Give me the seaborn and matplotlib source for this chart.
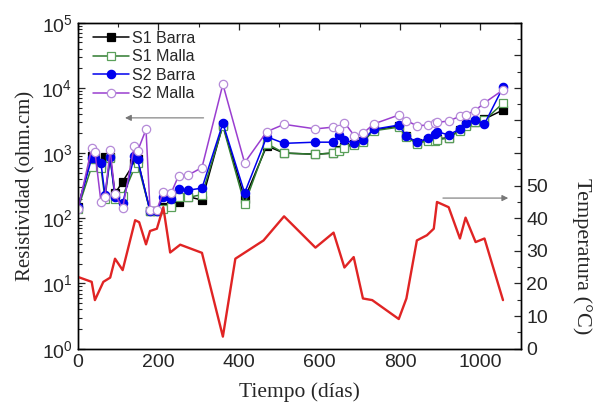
import numpy as np
import pandas as pd
import matplotlib
matplotlib.use("Agg")
import matplotlib.pyplot as plt
import seaborn as sns
from matplotlib.ticker import MultipleLocator, LogLocator, NullFormatter

# Datos de resistividad (dias de medicion comunes)
dias = [0, 34, 42, 57, 67, 80, 92, 111, 140, 148, 169, 179, 196, 212, 231, 250,
        274, 308, 360, 414, 469, 512, 590, 634, 648, 662, 687, 708, 735, 797,
        816, 842, 870, 888, 892, 921, 948, 963, 986, 1010, 1056]

nan = np.nan
s1_barra = [150, 900, 880, 650, 880, 880, 240, 365, 710, 800, nan, 130, 130, 150, 155, 180,
            215, 190, 2700, 200, 1290, 1000, 960, 1000, 1120, 1250, 1400, 1550, 2250, 2600,
            1800, 1450, 1600, 1590, 1650, 1720, 2250, 2690, 3000, 3330, 4580]
s1_malla = [140, 620, 800, 600, 200, 850, 200, 220, 585, 700, nan, 130, 130, 140, 150, 215,
            210, 230, 2600, 165, 1400, 1000, 960, 1000, 1090, 1200, 1350, 1500, 2200, 2500,
            1750, 1400, 1550, 1550, 1600, 1700, 2200, 2600, 3000, 3200, 5800]
s2_barra = [150, 830, 850, 700, 230, 860, 215, 170, 900, 800, nan, 130, 130, 215, 200, 280,
            270, 290, 2870, 245, 1780, 1410, 1470, 1470, 1900, 1590, 1410, 1590, 2320, 2690,
            1830, 1470, 1690, 1950, 2130, 1900, 2320, 2940, 3220, 2800, 10200]
s2_malla = [138, 1180, 1050, 180, 215, 1120, 233, 142, 1300, 1070, 2300, 135, 135, 256, 240, 450,
            460, 600, 11350, 710, 2130, 2760, 2350, 2500, 2300, 2940, 1830, 2000, 2800, 3830,
            3160, 2620, 2700, 2940, 2950, 3110, 3640, 3830, 4460, 5900, 9300]

# Temperatura
t_dias = [0, 34, 42, 63, 80, 92, 111, 142, 152, 169, 179, 196, 212, 229, 254, 308, 360,
          391, 461, 512, 590, 635, 662, 685, 708, 731, 797, 816, 842, 867, 884, 892, 921,
          949, 963, 988, 1010, 1056]
temp = [22.0, 20.5, 14.9, 20.5, 21.8, 27.6, 24.1, 39.4, 38.8, 32.0, 36.1, 36.8, 43.4, 29.5,
        31.9, 29.4, 3.7, 27.6, 33.2, 40.6, 31.0, 35.6, 24.9, 28.1, 15.4, 14.9, 9.1, 15.4,
        33.2, 34.8, 36.8, 45.0, 43.4, 33.8, 40.2, 32.7, 33.8, 14.9]

series = ["S1 Barra", "S1 Malla", "S2 Barra", "S2 Malla"]
valores = [s1_barra, s1_malla, s2_barra, s2_malla]

sns.set_style("white")
plt.rcParams["font.family"] = ["Liberation Sans", "DejaVu Sans"]
plt.rcParams["mathtext.default"] = "regular"

df = pd.DataFrame({"dias": np.tile(dias, 4),
                   "serie": np.repeat(series, len(dias)),
                   "R": np.concatenate(valores)}).dropna()
df_t = pd.DataFrame({"dias": t_dias, "T": temp})

fig = plt.figure(figsize=(5.94, 4.08), dpi=100)
ax = fig.add_axes([0.1313, 0.1454, 0.7453, 0.799])

estilos = {
    "S1 Barra": dict(color="black", marker="s", mfc="black", mec="black"),
    "S1 Malla": dict(color="#2f7a2f", marker="s", mfc="white", mec="#5aa05a"),
    "S2 Barra": dict(color="#0000ee", marker="o", mfc="#0000ee", mec="#0000ee"),
    "S2 Malla": dict(color="#9a3ed0", marker="o", mfc="white", mec="#b58ad8"),
}
for s in series:
    e = estilos[s]
    sub = df[df["serie"] == s]
    sns.lineplot(data=sub, x="dias", y="R", ax=ax, label=s, color=e["color"],
                 marker=e["marker"], markerfacecolor=e["mfc"], markeredgecolor=e["mec"],
                 markersize=6, markeredgewidth=0.9, linewidth=1.1, estimator=None, sort=False)

ax.set_yscale("log")
ax.set_xlim(0, 1100)
ax.set_ylim(1, 1e5)
ax.xaxis.set_major_locator(MultipleLocator(200))
ax.xaxis.set_minor_locator(MultipleLocator(100))
ax.yaxis.set_major_locator(LogLocator(base=10, numticks=10))
ax.yaxis.set_minor_locator(LogLocator(base=10, subs=np.arange(2, 10), numticks=10))
ax.yaxis.set_minor_formatter(NullFormatter())
ax.tick_params(axis="both", which="major", direction="in", length=5, width=0.9,
               labelsize=14, top=True, right=False, pad=4)
ax.tick_params(axis="both", which="minor", direction="in", length=3, width=0.8,
               top=True, right=False)
ax.set_xticks([0, 200, 400, 600, 800, 1000])
ax.set_xlabel("Tiempo (días)", fontfamily="Liberation Serif", fontsize=15.5, labelpad=8)
ax.set_ylabel("Resistividad (ohm.cm)", fontfamily="Liberation Serif", fontsize=15, labelpad=4)

ax.legend(loc="upper left", bbox_to_anchor=(0.015, 1.0), frameon=False, fontsize=11.5,
          handlelength=2.3, handletextpad=0.15, labelspacing=0.22, borderaxespad=0.1)

ax2 = ax.twinx()
sns.lineplot(data=df_t, x="dias", y="T", ax=ax2, color="#e02424", linewidth=1.7,
             estimator=None, sort=False)
ax2.set_ylim(0, 100)
ax2.yaxis.set_major_locator(MultipleLocator(10))
ax2.yaxis.set_minor_locator(MultipleLocator(5))
ticks_t = np.arange(0, 101, 10)
ax2.set_yticks(ticks_t)
ax2.set_yticklabels([str(t) if t <= 50 else "" for t in ticks_t])
ax2.tick_params(axis="y", which="major", direction="in", length=5, width=0.9,
                labelsize=14, pad=4)
ax2.tick_params(axis="y", which="minor", direction="in", length=3, width=0.8)
ax2.set_ylabel("Temperatura (°C)", fontfamily="Liberation Serif", fontsize=16,
               rotation=270, va="center")
ax2.yaxis.set_label_coords(1.138, 0.285)

for a in (ax, ax2):
    for sp in a.spines.values():
        sp.set_color("black")
        sp.set_linewidth(1.0)

# flechas indicando el eje de cada curva
ax.annotate("", xy=(0.10, 0.708), xytext=(0.29, 0.708), xycoords="axes fraction",
            arrowprops=dict(arrowstyle="-|>", color="#777777", lw=0.8, mutation_scale=9))
ax.annotate("", xy=(0.978, 0.462), xytext=(0.818, 0.462), xycoords="axes fraction",
            arrowprops=dict(arrowstyle="-|>", color="#777777", lw=0.8, mutation_scale=9))

fig.savefig("out.png", dpi=100)
